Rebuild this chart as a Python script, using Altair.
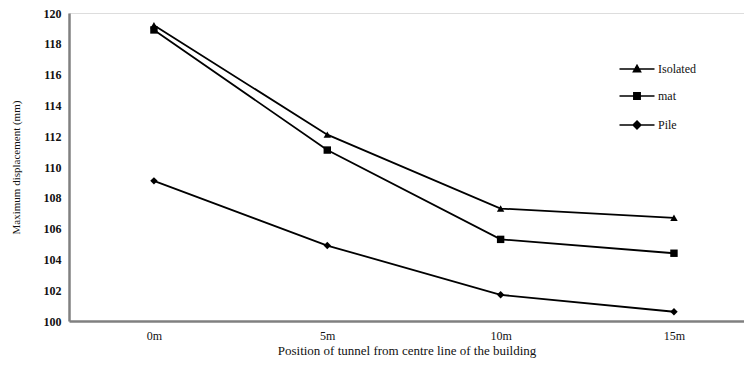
import altair as alt
import pandas as pd

positions = [0, 5, 10, 15]
series_names = ["Isolated", "mat", "Pile"]
isolated = [119.2, 112.1, 107.3, 106.7]
mat = [118.9, 111.1, 105.3, 104.4]
pile = [109.1, 104.9, 101.7, 100.6]

rows = []
for name, vals in zip(series_names, [isolated, mat, pile]):
    for p, v in zip(positions, vals):
        rows.append({"pos": p, "value": v, "series": name})
df = pd.DataFrame(rows)

FONT = "Liberation Serif"

x = alt.X("pos:Q",
          scale=alt.Scale(domain=[-2.45, 17.02], nice=False, zero=False),
          axis=alt.Axis(values=positions, labelExpr="datum.value + 'm'",
                        title="Position of tunnel  from centre line  of the building",
                        grid=False, ticks=False, labelPadding=9, titlePadding=3,
                        domainColor="#808080", domainWidth=2.5,
                        labelFont=FONT, labelFontSize=12, labelColor="#111",
                        titleFont=FONT, titleFontSize=13, titleFontWeight="normal",
                        titleColor="#111"))
y = alt.Y("value:Q",
          scale=alt.Scale(domain=[100, 120], nice=False, zero=False),
          axis=alt.Axis(values=list(range(100, 121, 2)),
                        title="Maximum displacement (mm)",
                        grid=False, ticks=False, labelPadding=8, titlePadding=22,
                        domainColor="#808080", domainWidth=2.5,
                        labelFont=FONT, labelFontSize=12, labelColor="#111",
                        labelFontWeight="bold",
                        titleFont=FONT, titleFontSize=11, titleFontWeight="normal",
                        titleColor="#111"))


def scan_path(halfwidth, y0, y1, outline):
    # legend glyph: horizontal line through a solid-looking marker
    parts = ["M-5,0H5"]
    yy = y0
    while yy <= y1 + 1e-9:
        w = halfwidth(yy)
        if w > 0.02:
            parts.append(f"M{-w:.2f},{yy:.2f}H{w:.2f}")
        yy += 0.3
    parts.append(outline)
    return "".join(parts)


tri = scan_path(lambda v: (v + 1) / 1.8, -0.9, 0.8, "M0,-1L1,0.8L-1,0.8Z")
sq = scan_path(lambda v: 0.9, -0.9, 0.9, "M-0.9,-0.9H0.9V0.9H-0.9Z")
dia = scan_path(lambda v: 1.1 - abs(v), -1.0, 1.0, "M0,-1.1L1.1,0L0,1.1L-1.1,0Z")

lines = alt.Chart(df).mark_line(color="black", strokeWidth=1.8).encode(
    x=x, y=y, detail="series:N")

points = alt.Chart(df).mark_point(filled=True, color="black", opacity=1, size=55).encode(
    x=x, y=y,
    shape=alt.Shape("series:N",
                    scale=alt.Scale(domain=series_names,
                                    range=["triangle-up", "square", "diamond"]),
                    legend=None))

legend_layer = alt.Chart(df).mark_point(filled=False, color="black", opacity=0).encode(
    x=x, y=y,
    shape=alt.Shape("series:N",
                    scale=alt.Scale(domain=series_names, range=[tri, sq, dia]),
                    legend=alt.Legend(title=None, orient="none", legendX=548, legendY=50,
                                      symbolSize=49, symbolOpacity=1,
                                      symbolStrokeColor="black",
                                      symbolStrokeWidth=1.6, symbolOffset=14,
                                      labelOffset=15, rowPadding=14, padding=0,
                                      labelFont=FONT, labelFontSize=12,
                                      labelColor="#111")))

chart = alt.layer(lines, points, legend_layer).resolve_scale(shape="independent").properties(
    width=675, height=308,
    autosize=alt.AutoSizeParams(type="none"),
    padding={"left": 61, "top": 5, "right": 0, "bottom": 38},
).configure_view(stroke=None).configure(background="white", font=FONT)

chart.save("out.html", embed_options={"renderer": "svg", "actions": False})
